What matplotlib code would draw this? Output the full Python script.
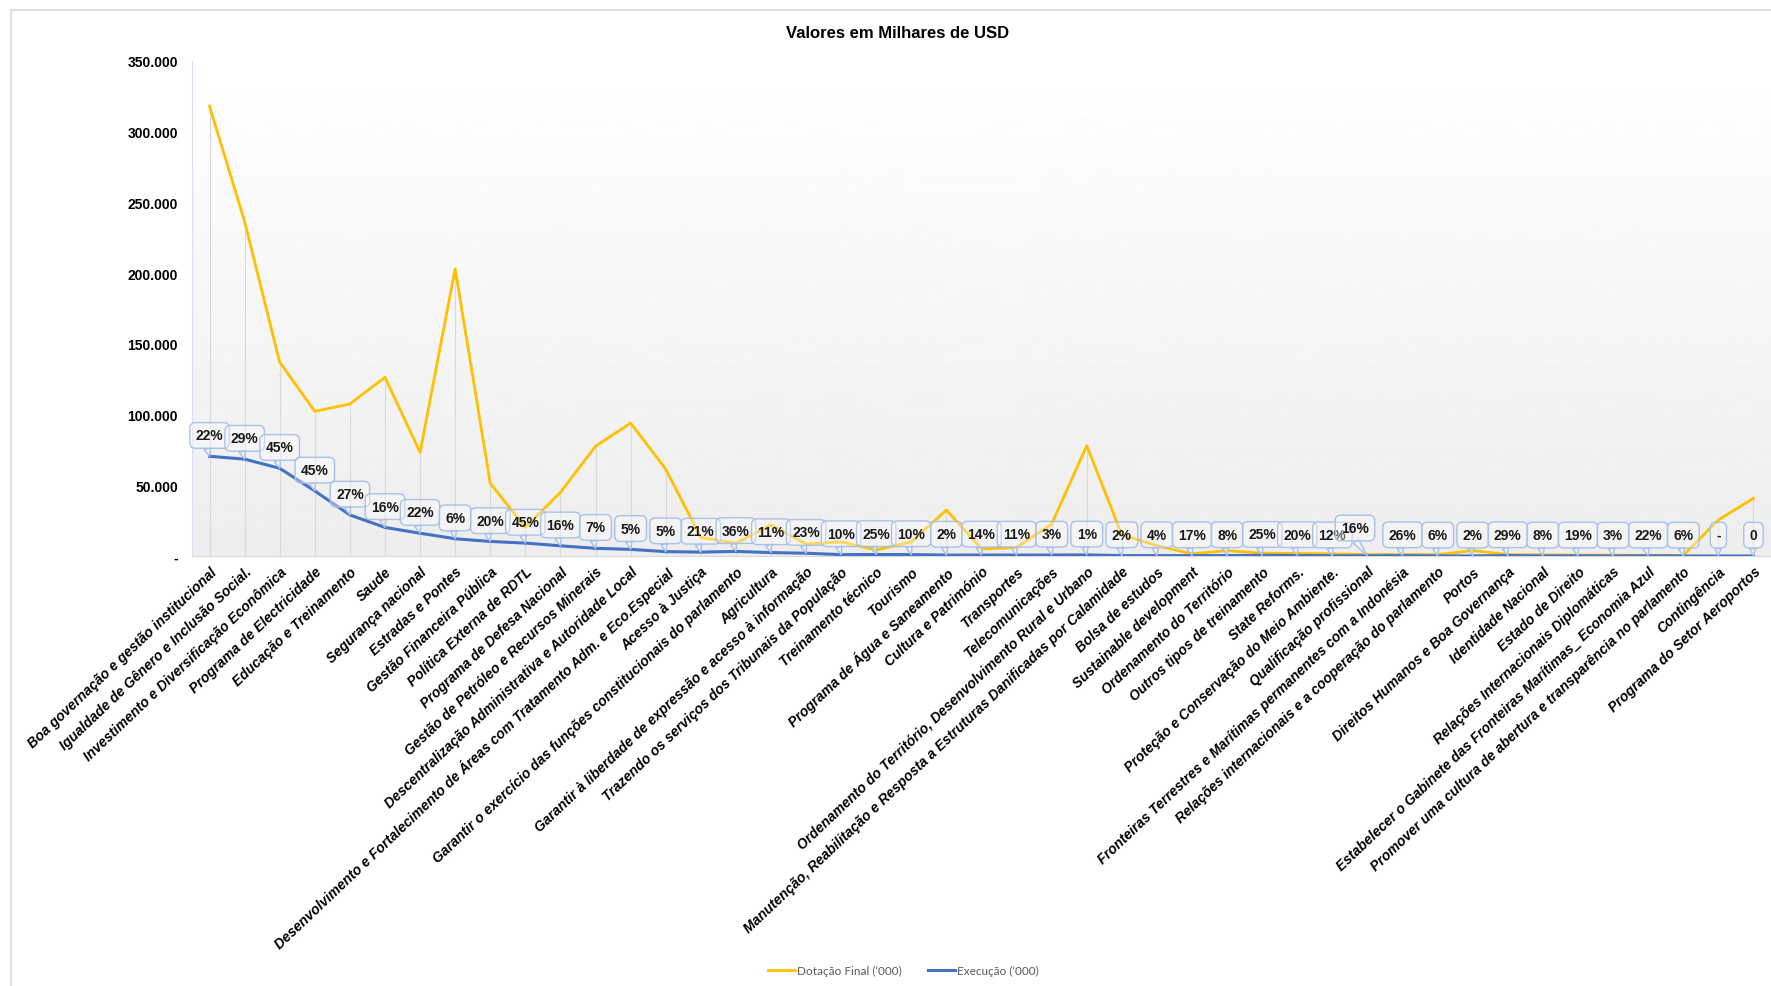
import numpy as np
import matplotlib
matplotlib.use("Agg")
import matplotlib.pyplot as plt
from matplotlib.lines import Line2D
from matplotlib.ticker import FuncFormatter

# programas (eixo x)
programas = [
    "Boa governação e gestão institucional",
    "Igualdade de Gênero e Inclusão Social.",
    "Investimento e Diversificação Econômica",
    "Programa de Electricidade",
    "Educação e Treinamento",
    "Saude",
    "Segurança nacional",
    "Estradas e Pontes",
    "Gestão Financeira Pública",
    "Política Externa de RDTL",
    "Programa de Defesa Nacional",
    "Gestão de Petróleo e Recursos Minerais",
    "Descentralização Administrativa e Autoridade Local",
    "Desenvolvimento e Fortalecimento de Áreas com Tratamento Adm. e Eco.Especial",
    "Acesso à Justiça",
    "Garantir o exercício das funções constitucionais do parlamento",
    "Agricultura",
    "Garantir à liberdade de expressão e acesso à informação",
    "Trazendo os serviços dos Tribunais da População",
    "Treinamento técnico",
    "Tourismo",
    "Programa de Água e Saneamento",
    "Cultura e Património",
    "Transportes",
    "Telecomunicações",
    "Ordenamento do Território, Desenvolvimento Rural e Urbano",
    "Manutenção, Reabilitação e Resposta a Estruturas Danificadas por Calamidade",
    "Bolsa de estudos",
    "Sustainable development",
    "Ordenamento do Território",
    "Outros tipos de treinamento",
    "State Reforms.",
    "Proteção e Conservação do Meio Ambiente.",
    "Qualificação profissional",
    "Fronteiras Terrestres e Marítimas permanentes com a Indonésia",
    "Relações internacionais e a cooperação do parlamento",
    "Portos",
    "Direitos Humanos e Boa Governança",
    "Identidade Nacional",
    "Estado de Direito",
    "Relações Internacionais Diplomáticas",
    "Estabelecer o Gabinete das Fronteiras Marítimas_ Economia Azul",
    "Promover uma cultura de abertura e transparência no parlamento",
    "Contingência",
    "Programa do Setor Aeroportos",
]

# valores em milhares de USD
dotacao = [318000, 236500, 137000, 102300, 107500, 126400, 73300, 203000, 51400, 20300,
           45000, 77600, 94000, 61500, 13200, 9000, 22000, 8500, 10000, 4200,
           10000, 32500, 5000, 6000, 22600, 78000, 15000, 7300, 1500, 3800,
           2000, 1800, 1500, 1000, 1000, 1000, 3800, 1000, 800, 600,
           600, 500, 400, 25500, 40800]
execucao = [70500, 68500, 62000, 46000, 29000, 20200, 16100, 12200, 10280, 9135,
            7200, 5430, 4700, 3075, 2770, 3240, 2420, 1955, 1000, 1050,
            1000, 650, 700, 660, 678, 780, 300, 292, 255, 304,
            500, 360, 180, 160, 260, 60, 76, 290, 64, 114,
            18, 110, 24, 0, 0]
percentagem = ["22%", "29%", "45%", "45%", "27%", "16%", "22%", "6%", "20%", "45%",
               "16%", "7%", "5%", "5%", "21%", "36%", "11%", "23%", "10%", "25%",
               "10%", "2%", "14%", "11%", "3%", "1%", "2%", "4%", "17%", "8%",
               "25%", "20%", "12%", "16%", "26%", "6%", "2%", "29%", "8%", "19%",
               "3%", "22%", "6%", "-", "0"]

AMARELO = "#FFC000"
AZUL = "#4472C4"

plt.rcParams["font.family"] = ["Liberation Sans", "DejaVu Sans"]

fig = plt.figure(figsize=(17.71, 9.87), dpi=100)
ax = fig.add_axes([192 / 1771, 1 - 557 / 987, 1 - 192 / 1771, (557 - 62) / 987])

x = np.arange(len(programas))
ax.set_xlim(-0.5, len(programas) - 0.5)
ax.set_ylim(0, 350000)

# fundo em degradê
grad = np.linspace(1.0, 0.93, 256).reshape(-1, 1)
ax.imshow(grad, cmap="gray", vmin=0, vmax=1, aspect="auto",
          extent=[-0.5, len(programas) - 0.5, 0, 350000], origin="upper", zorder=0)

# linhas de queda
topo = np.maximum(dotacao, execucao)
ax.vlines(x, 0, topo, color="#D9D9D9", lw=0.8, zorder=1)

ax.plot(x, dotacao, color=AMARELO, lw=2.0, zorder=3, label="Dotação Final (‘000)")
ax.plot(x, execucao, color=AZUL, lw=2.2, zorder=3, label="Execução (‘000)")

# balões com percentagem de execução
for i, (v, lab) in enumerate(zip(execucao, percentagem)):
    dx, dy = 0, 15
    if i == 33:
        dx, dy = -9, 20
    ax.annotate(lab, xy=(i, v), xytext=(dx, dy), textcoords="offset points",
                ha="center", va="center", fontsize=10, fontweight="bold",
                color="#1A1A1A", zorder=4,
                bbox=dict(boxstyle="round,pad=0.42,rounding_size=0.4",
                          fc=(1, 1, 1, 0.35), ec="#A9C0E8", lw=1.0),
                arrowprops=dict(arrowstyle="wedge,tail_width=0.45", fc=(1, 1, 1, 0.35),
                                ec="#A9C0E8", lw=1.0, shrinkA=0, shrinkB=0,
                                relpos=(0.35, 0.0)))

ax.set_yticks(np.arange(0, 350001, 50000))
ax.yaxis.set_major_formatter(FuncFormatter(
    lambda v, p: "-" if v == 0 else "{:,.0f}".format(v).replace(",", ".")))
ax.tick_params(axis="y", length=0, pad=10, labelsize=10)
for t in ax.get_yticklabels():
    t.set_fontweight("bold")

ax.set_xticks(x)
ax.set_xticklabels(programas, rotation=43.5, ha="right", rotation_mode="anchor",
                   fontsize=10, fontweight="bold", fontstyle="italic")
ax.tick_params(axis="x", length=0, pad=6)

for s in ["top", "right"]:
    ax.spines[s].set_visible(False)
ax.spines["left"].set_color("#D6E0F2")
ax.spines["bottom"].set_color("#D9D9D9")

fig.text(0.507, 0.966, "Valores em Milhares de USD", ha="center", va="center",
         fontsize=12, fontweight="bold")

# moldura do gráfico
fig.add_artist(Line2D([11 / 1771, 11 / 1771], [0, 1 - 11 / 987], color="#D9D9D9", lw=1.2))
fig.add_artist(Line2D([11 / 1771, 1], [1 - 11 / 987, 1 - 11 / 987], color="#D9D9D9", lw=1.2))

fig.legend(loc="center", bbox_to_anchor=(0.51, 0.016), ncol=2, frameon=False,
           prop={"family": "Lato", "size": 8.5}, labelcolor="#595959",
           handlelength=2.3, handletextpad=0.15, columnspacing=2.2)

fig.savefig("out.png", dpi=100)
